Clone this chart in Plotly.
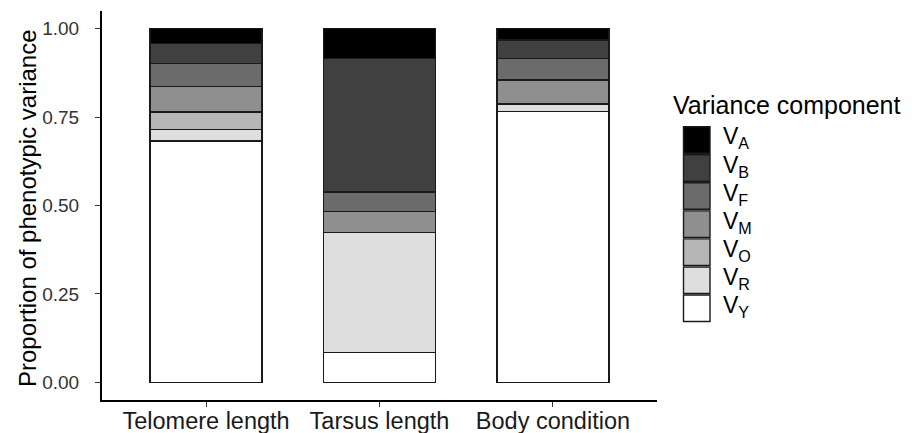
import plotly.graph_objects as go

# ---- data ----
traits = ["Telomere length", "Tarsus length", "Body condition"]
components = ["A", "B", "F", "M", "O", "R", "Y"]
colors = ["#000000", "#404040", "#6b6b6b", "#8f8f8f", "#b6b6b6", "#dedede", "#ffffff"]
values = {
    "A": [0.042, 0.084, 0.032],
    "B": [0.057, 0.378, 0.052],
    "F": [0.065, 0.055, 0.061],
    "M": [0.072, 0.060, 0.068],
    "O": [0.049, 0.000, 0.000],
    "R": [0.033, 0.338, 0.022],
    "Y": [0.682, 0.085, 0.765],
}
y_ticks = [0.0, 0.25, 0.5, 0.75, 1.0]
y_ticklabels = ["0.00", "0.25", "0.50", "0.75", "1.00"]

FONT = "Liberation Sans, Arial, sans-serif"
W, H = 912, 433
L, R, T, B = 102, 255, 11, 33
PW, PH = W - L - R, H - T - B


def px_x(px):
    return (px - L) / PW


def px_y(py):
    return (H - B - py) / PH


fig = go.Figure()
# stack bottom-up: Y first, A last
for comp, col in reversed(list(zip(components, colors))):
    fig.add_trace(go.Bar(
        x=traits, y=values[comp], name="V" + comp,
        marker=dict(color=col, line=dict(color="#1a1a1a", width=1.4)),
        showlegend=False,
    ))

shapes = []
annotations = []
# manual legend
annotations.append(dict(
    x=px_x(671), y=px_y(105), xref="paper", yref="paper",
    text="Variance component", showarrow=False, xanchor="left", yanchor="middle",
    font=dict(family=FONT, size=25, color="#000000"),
))
box_top0, step, box_h = 126.7, 28.05, 26.5
for i, (comp, col) in enumerate(zip(components, colors)):
    top = box_top0 + i * step
    shapes.append(dict(
        type="rect", xref="paper", yref="paper",
        x0=px_x(683.5), x1=px_x(710), y0=px_y(top + box_h), y1=px_y(top),
        fillcolor=col, line=dict(color="#1a1a1a", width=1.4),
    ))
    annotations.append(dict(
        x=px_x(721), y=px_y(top + box_h / 2 - 2), xref="paper", yref="paper",
        text="V<sub>" + comp + "</sub>", showarrow=False, xanchor="left", yanchor="middle",
        font=dict(family=FONT, size=23, color="#000000"),
    ))
# y-axis title
annotations.append(dict(
    x=px_x(27), y=px_y(208), xref="paper", yref="paper",
    text="Proportion of phenotypic variance", showarrow=False, textangle=-90,
    xanchor="center", yanchor="middle",
    font=dict(family=FONT, size=24, color="#000000"),
))

fig.update_layout(
    width=W, height=H,
    margin=dict(l=L, r=R, t=T, b=B, autoexpand=False),
    template="none",
    paper_bgcolor="white", plot_bgcolor="white",
    barmode="stack", bargap=0.355,
    showlegend=False,
    shapes=shapes, annotations=annotations,
    font=dict(family=FONT),
    xaxis=dict(
        range=[-0.6, 2.6], showgrid=False, zeroline=False,
        showline=True, linecolor="#000000", linewidth=2,
        ticks="outside", ticklen=5, tickwidth=1.2, tickcolor="#333333",
        ticklabelstandoff=-6,
        tickfont=dict(family=FONT, size=23.5, color="#1a1a1a"),
        automargin=False,
    ),
    yaxis=dict(
        range=[-0.05, 1.05], showgrid=False, zeroline=False,
        showline=True, linecolor="#000000", linewidth=2,
        tickvals=y_ticks, ticktext=y_ticklabels,
        ticks="outside", ticklen=5, tickwidth=1.2, tickcolor="#333333",
        ticklabelstandoff=12,
        tickfont=dict(family=FONT, size=19, color="#333333"),
        automargin=False,
    ),
)

fig.write_html(
    "out.html",
    config={"displayModeBar": False},
    post_script="document.body.style.margin='0';document.body.style.padding='0';"
                "document.body.style.overflow='hidden';",
)
